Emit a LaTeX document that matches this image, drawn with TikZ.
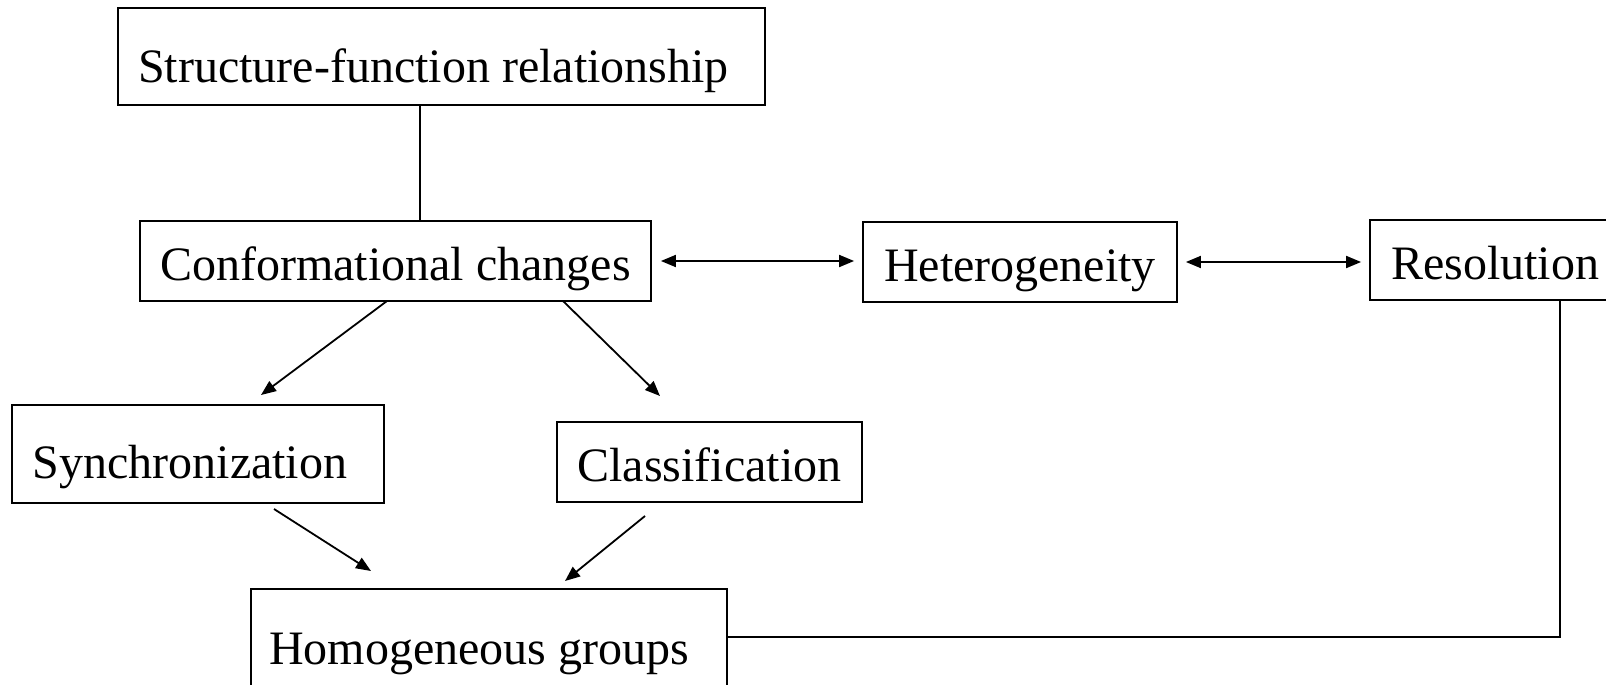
\documentclass[tikz,border=0pt]{standalone}
\usepackage{fontspec}
\setmainfont{Liberation Serif}
\usetikzlibrary{arrows.meta}
\begin{document}
\begin{tikzpicture}[x=1pt,y=-1pt, line width=1.8pt,
  box/.style={draw, inner sep=0pt, text depth=0pt,
    font=\fontsize{48}{56}\selectfont},
  tip/.style={-{Triangle[length=15pt,width=12pt]}},
  dtip/.style={{Triangle[length=15pt,width=12pt]}-{Triangle[length=15pt,width=12pt]}}]
\clip (0,0) rectangle (1606,685);
\fill[white] (0,0) rectangle (1606,685);

% boxes
\node[box, minimum width=647pt, minimum height=97pt, text height=51pt]
  (sf) at (441.5,56.5) {Structure-function relationship\hspace*{16pt}};
\node[box, minimum width=511pt, minimum height=80pt, text height=38pt]
  (cc) at (395.5,261) {Conformational changes};
\node[box, minimum width=314pt, minimum height=80pt, text height=38pt]
  (het) at (1020,262) {Heterogeneity};
\node[box, minimum width=250pt, minimum height=80pt, text height=38pt]
  (res) at (1495,260) {Resolution};
\node[box, minimum width=372pt, minimum height=98pt, text height=48pt]
  (sync) at (198,454) {Synchronization\hspace*{16pt}};
\node[box, minimum width=305pt, minimum height=80pt, text height=38pt]
  (cls) at (709.5,462) {Classification};
\node[box, minimum width=476pt, minimum height=98pt, text height=52pt]
  (hom) at (489,638) {Homogeneous groups\hspace*{20pt}};

% free ends of the slanted arrows
\coordinate (ccL) at (387,301);
\coordinate (ccR) at (563,301);
\coordinate (syncT) at (261,395);
\coordinate (clsT) at (660,396);
\coordinate (syncB) at (274,509);
\coordinate (clsB) at (645,516);
\coordinate (homL) at (371,571);
\coordinate (homR) at (565,581);
\coordinate (corner) at (res.south -| 1560,0);

% connectors
\draw (sf.south -| 420,0) -- (cc.north -| 420,0);
\draw[dtip, shorten <=9pt, shorten >=8pt] (cc.east) -- (cc.east -| het.west);
\draw[dtip, shorten <=8pt, shorten >=8pt] (het.east |- 0,262) -- (res.west |- 0,262);
\draw[tip] (ccL) -- (syncT);
\draw[tip] (ccR) -- (clsT);
\draw[tip] (syncB) -- (homL);
\draw[tip] (clsB) -- (homR);
\draw (corner) -- (1560,637) -- (hom.east |- 0,637);
\end{tikzpicture}
\end{document}
